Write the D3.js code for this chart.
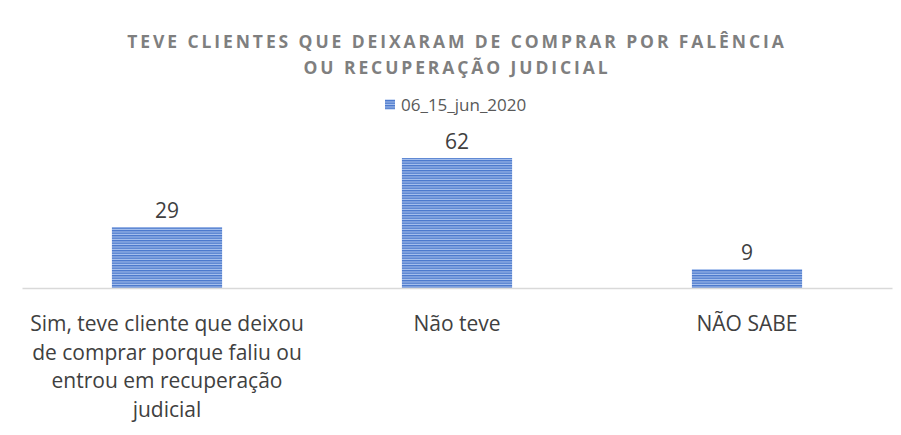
<!DOCTYPE html>
<html><head><meta charset="utf-8">
<script src="https://cdn.jsdelivr.net/npm/d3@7"></script>
<style>body{margin:0;background:#fff;} svg{display:block;}</style>
</head><body>
<svg id="chart" width="901" height="435"></svg>
<script>
const titleLines = ["TEVE CLIENTES QUE DEIXARAM DE COMPRAR POR FALÊNCIA", "OU RECUPERAÇÃO JUDICIAL"];
const seriesName = "06_15_jun_2020";
const categories = [
  "Sim, teve cliente que deixou\nde comprar porque faliu ou\nentrou em recuperação\njudicial",
  "Não teve",
  "NÃO SABE"
];
const values = [29, 62, 9];

const FONT = "'Open Sans', sans-serif";
const svg = d3.select("#chart");
const defs = svg.append("defs");
const pat = defs.append("pattern").attr("id","stripes").attr("patternUnits","userSpaceOnUse")
  .attr("width",6).attr("height",2.5);
pat.append("rect").attr("width",6).attr("height",2.5).attr("fill","#aac3ee");
pat.append("rect").attr("width",6).attr("height",1.4).attr("fill","#4a78cc");

const x = d3.scaleBand().domain(categories).range([22, 892]).paddingInner(0.62).paddingOuter(0.31);
const y = d3.scaleLinear().domain([0, 62]).range([288, 158]);

// title
svg.append("g").selectAll("text").data(titleLines).join("text")
  .attr("x", 457).attr("y", (d,i)=>48 + i*26)
  .attr("text-anchor","middle")
  .attr("font-family",FONT).attr("font-weight","bold")
  .attr("font-size",17.5).attr("letter-spacing","2.9px").attr("fill","#7f7f7f")
  .text(d=>d);

// legend
svg.append("rect").attr("x",385).attr("y",99.5).attr("width",10).attr("height",10).attr("fill","url(#stripes)");
svg.append("text").attr("x",401).attr("y",111).attr("font-family",FONT)
  .attr("font-size",17).attr("fill","#595959").text(seriesName);

// bars
svg.append("g").selectAll("rect").data(values).join("rect")
  .attr("x",(d,i)=>x(categories[i])).attr("width",x.bandwidth())
  .attr("y",d=>y(d)).attr("height",d=>y(0)-y(d))
  .attr("fill","url(#stripes)");

// value labels
svg.append("g").selectAll("text").data(values).join("text")
  .attr("x",(d,i)=>x(categories[i])+x.bandwidth()/2).attr("y",d=>y(d)-9)
  .attr("text-anchor","middle").attr("font-family",FONT)
  .attr("font-size",21).attr("fill","#404040").text(d=>d);

// axis
const axis = d3.axisBottom(x).tickSize(0).tickFormat("");
const ag = svg.append("g").attr("transform","translate(0,288)").call(axis);
ag.select(".domain").attr("stroke","#d9d9d9").attr("stroke-width",1.5);

// category labels
const cg = svg.append("g");
categories.forEach((c,i)=>{
  const t = cg.append("text").attr("text-anchor","middle")
    .attr("font-family",FONT).attr("font-size",21).attr("fill","#404040");
  c.split("\n").forEach((line,j)=>{
    t.append("tspan").attr("x", x(c)+x.bandwidth()/2).attr("y", 331 + j*28.5).text(line);
  });
});
</script>
</body></html>
